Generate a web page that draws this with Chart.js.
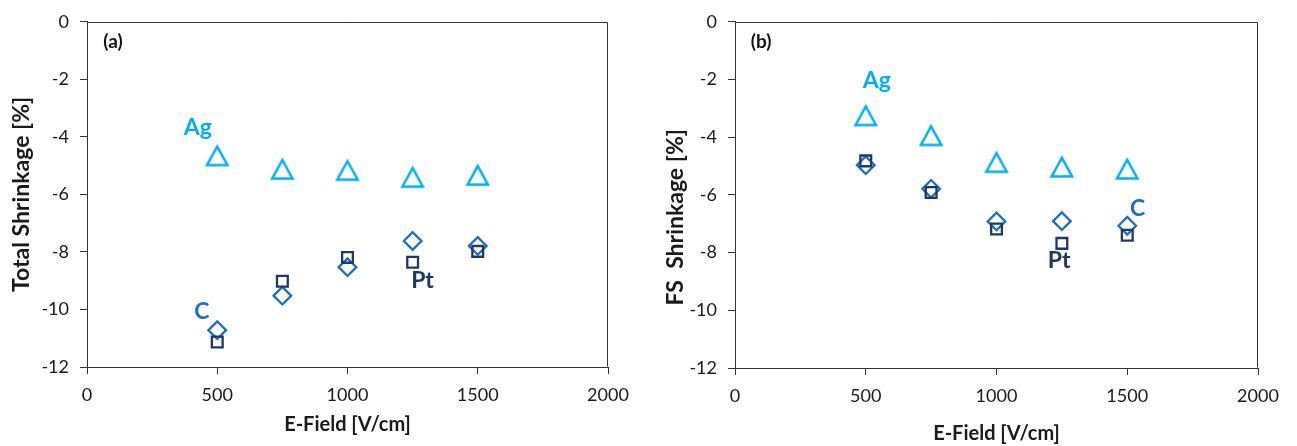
<!DOCTYPE html>
<html>
<head>
<meta charset="utf-8">
<script src="https://cdn.jsdelivr.net/npm/chart.js@4/dist/chart.umd.min.js"></script>
<style>
  html, body { margin: 0; padding: 0; background: #ffffff; }
  #wrap { position: relative; width: 1297px; height: 446px; overflow: hidden; }
  .panel { position: absolute; top: 0; }
</style>
</head>
<body>
<div id="wrap">
  <canvas id="chartA" class="panel" width="648" height="446" style="left:0px"></canvas>
  <canvas id="chartB" class="panel" width="649" height="446" style="left:648px"></canvas>
</div>
<script>
// Applied electric field for each sintering run [V/cm]
const fieldValues = [500, 750, 1000, 1250, 1500];

// (a) total shrinkage [%] per electrode material
const agTotal = [-4.65, -5.12, -5.16, -5.40, -5.33];
const cTotal  = [-10.72, -9.52, -8.53, -7.62, -7.79];
const ptTotal = [-11.13, -9.02, -8.19, -8.36, -7.98];

// (b) FS shrinkage [%] per electrode material
const agFS = [-3.25, -3.94, -4.87, -5.03, -5.10];
const cFS  = [-4.97, -5.79, -6.92, -6.91, -7.07];
const ptFS = [-4.82, -5.92, -7.18, -7.68, -7.40];

// Axis tick values
const xTickValues = [0, 500, 1000, 1500, 2000];
const yTickValues = [0, -2, -4, -6, -8, -10, -12];

const FONT = 'Lato, "Open Sans", "Liberation Sans", sans-serif';
const COL_AG = '#00b0f0';
const COL_C  = '#1f6fbf';
const COL_PT = '#1f3864';
const AXIS_COL = '#333333';
const TEXT_COL = '#1a1a1a';

// Open triangle marker, centred on its bounding box
function triangleMarker(color) {
  const c = document.createElement('canvas');
  c.width = 26; c.height = 26;
  const g = c.getContext('2d');
  g.strokeStyle = color;
  g.lineWidth = 2.5;
  g.lineJoin = 'miter';
  g.beginPath();
  g.moveTo(13, 3.8);
  g.lineTo(2.8, 22.4);
  g.lineTo(23.2, 22.4);
  g.closePath();
  g.stroke();
  return c;
}
const agMarker = triangleMarker(COL_AG);

function points(ys) {
  return fieldValues.map((x, i) => ({ x, y: ys[i] }));
}

// Plot frame (top/right sides) and in-plot series labels
const frameAndLabels = {
  id: 'frameAndLabels',
  afterDatasetsDraw(chart, args, opts) {
    const { ctx, chartArea: a, scales } = chart;
    ctx.save();
    ctx.strokeStyle = AXIS_COL;
    ctx.lineWidth = 1;
    const l = Math.round(a.left) + 0.5, r = Math.round(a.right) - 0.5;
    const t = Math.round(a.top) + 0.5, b = Math.round(a.bottom) - 0.5;
    ctx.beginPath();
    ctx.moveTo(l, t); ctx.lineTo(r, t); ctx.lineTo(r, b);
    ctx.stroke();
    ctx.textAlign = 'center';
    ctx.textBaseline = 'middle';
    for (const lab of opts.labels) {
      ctx.font = lab.font;
      ctx.fillStyle = lab.color;
      ctx.fillText(lab.text, scales.x.getPixelForValue(lab.x), scales.y.getPixelForValue(lab.y));
    }
    ctx.restore();
  }
};

const plainNumber = v => String(v);

function makeChart(id, cfg) {
  return new Chart(document.getElementById(id), {
    type: 'scatter',
    data: {
      datasets: [
        { label: 'Pt', data: points(cfg.pt), pointStyle: 'rect', pointRadius: 7.6,
          borderColor: COL_PT, backgroundColor: 'rgba(0,0,0,0)', borderWidth: 2.3 },
        { label: 'C', data: points(cfg.c), pointStyle: 'rectRot', pointRadius: 8.8,
          borderColor: COL_C, backgroundColor: 'rgba(0,0,0,0)', borderWidth: 2.3 },
        { label: 'Ag', data: points(cfg.ag), pointStyle: agMarker, pointRadius: 12,
          borderColor: COL_AG, backgroundColor: 'rgba(0,0,0,0)', borderWidth: 2.5 }
      ]
    },
    options: {
      responsive: false,
      animation: false,
      devicePixelRatio: 1,
      layout: { padding: { left: 0, top: 20, right: cfg.padRight, bottom: 0 } },
      plugins: {
        legend: { display: false },
        tooltip: { enabled: false },
        frameAndLabels: { labels: cfg.labels }
      },
      scales: {
        x: {
          type: 'linear', min: 0, max: 2000,
          afterBuildTicks: s => { s.ticks = xTickValues.map(v => ({ value: v })); },
          afterFit: s => { s.height = cfg.xAxisHeight; },
          grid: { drawOnChartArea: false, drawTicks: true, tickLength: 7, color: AXIS_COL },
          border: { display: true, color: AXIS_COL, width: 1 },
          ticks: { font: { family: FONT, size: 18 }, color: TEXT_COL, padding: 10, maxRotation: 0,
                   callback: plainNumber },
          title: { display: true, text: 'E-Field [V/cm]', color: TEXT_COL,
                   font: { family: FONT, size: 20, weight: 'bold', lineHeight: 1.2 },
                   padding: { top: 0, bottom: cfg.xTitlePad } }
        },
        y: {
          type: 'linear', min: -12, max: 0,
          afterBuildTicks: s => { s.ticks = yTickValues.map(v => ({ value: v })); },
          afterFit: s => { s.width = cfg.yAxisWidth; },
          grid: { drawOnChartArea: false, drawTicks: true, tickLength: 7, color: AXIS_COL },
          border: { display: true, color: AXIS_COL, width: 1 },
          ticks: { font: { family: FONT, size: 18 }, color: TEXT_COL, padding: 11,
                   callback: plainNumber },
          title: { display: true, text: cfg.yTitle, color: TEXT_COL,
                   font: { family: FONT, size: 23, weight: 'bold', lineHeight: 1.2 },
                   padding: { top: cfg.yTitlePad, bottom: 0 } }
        }
      }
    },
    plugins: [frameAndLabels]
  });
}

const boldLabel = size => `bold ${size}px ${FONT}`;

makeChart('chartA', {
  ag: agTotal, c: cTotal, pt: ptTotal,
  yTitle: 'Total Shrinkage [%]',
  yAxisWidth: 87, padRight: 40, xAxisHeight: 79, xTitlePad: 9, yTitlePad: 8,
  labels: [
    { text: '(a)', x: 100,  y: -0.7, color: '#111111', font: boldLabel(19) },
    { text: 'Ag',  x: 425,  y: -3.66, color: COL_AG, font: boldLabel(23) },
    { text: 'C',   x: 441,  y: -10.07, color: COL_C, font: boldLabel(23) },
    { text: 'Pt',  x: 1288, y: -8.98, color: COL_PT, font: boldLabel(23) }
  ]
});

makeChart('chartB', {
  ag: agFS, c: cFS, pt: ptFS,
  yTitle: 'FS  Shrinkage [%]        ',
  yAxisWidth: 87, padRight: 39, xAxisHeight: 78, xTitlePad: 0, yTitlePad: 14,
  labels: [
    { text: '(b)', x: 100,  y: -0.7, color: '#111111', font: boldLabel(19) },
    { text: 'Ag',  x: 542,  y: -2.03, color: COL_AG, font: boldLabel(23) },
    { text: 'C',   x: 1540, y: -6.49, color: COL_C, font: boldLabel(23) },
    { text: 'Pt',  x: 1240, y: -8.26, color: COL_PT, font: boldLabel(23) }
  ]
});
</script>
</body>
</html>
